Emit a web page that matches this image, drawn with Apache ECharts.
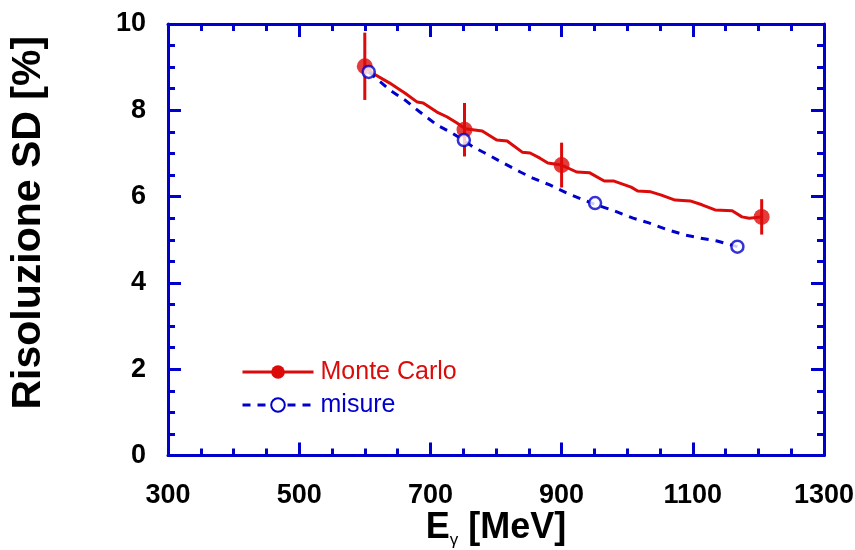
<!DOCTYPE html>
<html>
<head>
<meta charset="utf-8">
<script src="https://cdn.jsdelivr.net/npm/echarts@6/dist/echarts.min.js"></script>
<style>
  html, body { margin: 0; padding: 0; background: #fff; }
  #chart { width: 855px; height: 550px; }
</style>
</head>
<body>
<div id="chart"></div>
<script>
// Monte Carlo simulation curve (photon energy in MeV, resolution in %)
const mcCurveE = [600, 612, 638, 654, 661, 680, 689, 710, 725, 740, 753, 779, 801, 817, 840, 852, 867, 879, 900, 923, 943, 965, 980, 1006, 1016, 1036, 1051, 1073, 1096, 1114, 1134, 1160, 1175, 1186, 1205];
const mcCurveR = [9.03, 8.86, 8.63, 8.47, 8.40, 8.19, 8.17, 7.96, 7.85, 7.71, 7.57, 7.52, 7.31, 7.29, 7.03, 7.01, 6.89, 6.78, 6.73, 6.57, 6.55, 6.36, 6.36, 6.22, 6.13, 6.11, 6.04, 5.92, 5.90, 5.81, 5.69, 5.67, 5.53, 5.50, 5.53];

// Monte Carlo points with their uncertainties
const mcE = [600, 752, 900, 1205];
const mcR = [9.02, 7.55, 6.73, 5.53];
const mcErr = [0.78, 0.62, 0.52, 0.41];

// Measured resolution: trend line and measured points
const msCurveE = [606, 638, 661, 684, 710, 730, 750, 765, 783, 811, 837, 856, 882, 908, 949, 980, 1009, 1033, 1062, 1088, 1111, 1137, 1168];
const msCurveR = [8.89, 8.47, 8.24, 7.96, 7.66, 7.50, 7.31, 7.15, 7.01, 6.78, 6.57, 6.43, 6.27, 6.08, 5.83, 5.67, 5.50, 5.39, 5.23, 5.11, 5.04, 4.97, 4.84];
const msE = [606, 751, 951, 1168];
const msR = [8.89, 7.31, 5.85, 4.84];

const RED = '#dd0a0a';
const BLUE = '#0000cc';
const FONT = 'Liberation Sans, Arial, sans-serif';

const zip = (xs, ys) => xs.map((x, i) => [x, ys[i]]);
const curveData = (xs, ys) => xs.map((x, i) => ({ value: [x, ys[i]], symbol: 'none' }));

const tickStyle = {
  axisLine: { show: true, onZero: false, lineStyle: { color: BLUE, width: 3 } },
  axisTick: { show: true, inside: true, length: 13, lineStyle: { color: BLUE, width: 3 } },
  minorTick: { show: true, splitNumber: 4, length: 7, lineStyle: { color: BLUE, width: 3 } },
  splitLine: { show: false },
  minorSplitLine: { show: false }
};

const xBase = Object.assign({ type: 'value', min: 300, max: 1300, interval: 200 }, tickStyle);
const yBase = Object.assign({ type: 'value', min: 0, max: 10, interval: 2 }, tickStyle);

const labelStyle = {
  show: true, margin: 24, color: '#000', fontFamily: FONT, fontWeight: 'bold', fontSize: 27,
  formatter: v => String(v)
};

const chart = echarts.init(document.getElementById('chart'), null, { renderer: 'canvas' });

chart.setOption({
  animation: false,
  backgroundColor: '#fff',
  grid: { left: 168, right: 31, top: 24, bottom: 94.5, containLabel: false, outerBoundsMode: 'none' },
  legend: {
    orient: 'vertical',
    left: 241,
    top: 357,
    padding: 0,
    itemWidth: 71,
    itemHeight: 17,
    itemGap: 3,
    lineStyle: { width: 3 },
    textStyle: { fontFamily: FONT, fontSize: 25, lineHeight: 30, padding: [0, 0, 0, 2] },
    data: [
      { name: 'Monte Carlo', textStyle: { color: RED } },
      { name: 'misure', textStyle: { color: BLUE } }
    ]
  },
  xAxis: [
    Object.assign({}, xBase, {
      position: 'bottom',
      axisLabel: Object.assign({}, labelStyle, { margin: 27 }),
      name: '{e|E}{g|γ}{e| [MeV]}',
      nameLocation: 'middle',
      nameMoveOverlap: false,
      nameGap: 53,
      nameTextStyle: {
        rich: {
          e: { fontFamily: FONT, fontWeight: 'bold', fontSize: 36, color: '#000', lineHeight: 40, verticalAlign: 'middle' },
          g: { fontFamily: FONT, fontSize: 17, color: '#000', lineHeight: 14, verticalAlign: 'bottom' }
        }
      }
    }),
    Object.assign({}, xBase, { position: 'top', axisLabel: { show: false } })
  ],
  yAxis: [
    Object.assign({}, yBase, {
      position: 'left',
      axisLabel: Object.assign({}, labelStyle, { margin: 22 }),
      name: 'Risoluzione SD [%]',
      nameLocation: 'middle',
      nameRotate: 90,
      nameGap: 119,
      nameTextStyle: { fontFamily: FONT, fontWeight: 'bold', fontSize: 41, color: '#000', padding: [0, 0, 0, 34] }
    }),
    Object.assign({}, yBase, { position: 'right', axisLabel: { show: false } })
  ],
  series: [
    {
      name: 'misure',
      type: 'line',
      z: 3,
      symbol: 'emptyCircle',
      symbolSize: 13,
      itemStyle: { color: BLUE },
      lineStyle: { color: BLUE, width: 3, type: [8, 7] },
      data: curveData(msCurveE, msCurveR)
    },
    {
      name: 'Monte Carlo',
      type: 'line',
      z: 2,
      symbol: 'circle',
      symbolSize: 15,
      itemStyle: { color: RED },
      lineStyle: { color: RED, width: 3 },
      data: curveData(mcCurveE, mcCurveR)
    },
    {
      name: 'Monte Carlo errori',
      type: 'custom',
      z: 2,
      data: mcE.map((e, i) => [e, mcR[i], mcErr[i]]),
      renderItem: (params, api) => {
        const x = api.value(0), y = api.value(1), d = api.value(2);
        const top = api.coord([x, y + d]);
        const bot = api.coord([x, y - d]);
        return {
          type: 'line',
          shape: { x1: top[0], y1: top[1], x2: bot[0], y2: bot[1] },
          style: { stroke: RED, lineWidth: 3 }
        };
      }
    },
    {
      name: 'Monte Carlo punti',
      type: 'scatter',
      z: 4,
      symbol: 'circle',
      symbolSize: 16,
      itemStyle: { color: RED },
      data: zip(mcE, mcR)
    },
    {
      name: 'misure punti',
      type: 'scatter',
      z: 5,
      symbol: 'circle',
      symbolSize: 12,
      itemStyle: { color: '#fff', borderColor: BLUE, borderWidth: 2.5 },
      data: zip(msE, msR)
    }
  ]
});
</script>
</body>
</html>
